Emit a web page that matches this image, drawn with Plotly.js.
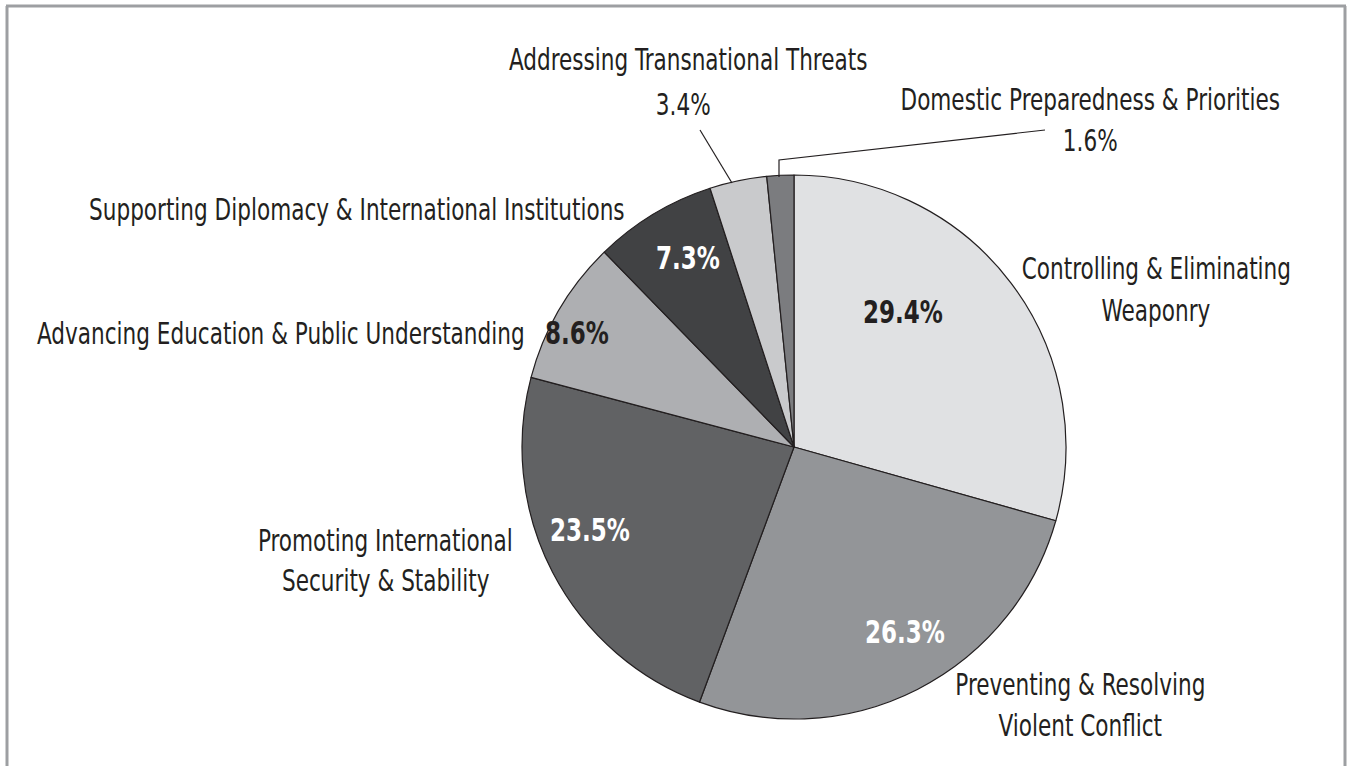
<!DOCTYPE html>
<html>
<head>
<meta charset="utf-8">
<script src="https://cdn.plot.ly/plotly-3.0.1.min.js"></script>
<style>html,body{margin:0;padding:0;background:#fff;}#chart{width:1349px;height:766px;}</style>
</head>
<body>
<div id="chart"></div>
<script>
// ---- data ----
const categories = [
  "Controlling & Eliminating Weaponry",
  "Preventing & Resolving Violent Conflict",
  "Promoting International Security & Stability",
  "Advancing Education & Public Understanding",
  "Supporting Diplomacy & International Institutions",
  "Addressing Transnational Threats",
  "Domestic Preparedness & Priorities"
];
const values = [29.4, 26.3, 23.5, 8.6, 7.3, 3.4, 1.6];
const sliceColors = ["#e0e1e3", "#939598", "#616264", "#aeafb2", "#414244", "#c9cacc", "#7b7c7f"];

// ---- layout helpers (pixel -> paper) ----
const W = 1349, H = 766;
const px = x => x / W;
const py = y => 1 - y / H;
const cx = 794, cy = 447, R = 272;

const FONT = "'DejaVu Sans Condensed', 'Liberation Sans Narrow', 'Liberation Sans', sans-serif";
const INK = "#231f20";
const FS = 30;        // font size
const FS_IN = 32;     // inside percentage font size
const SQUEEZE = 0.80; // horizontal condensing of label text

// category label placements (line breaks + per-line vertical centres)
const catLabelPos = [
  {split: 25, x: 1156, ys: [268, 310], xa: "center"},
  {split: 22, x: 1080, ys: [684, 725], xa: "center"},
  {split: 23, x: 385, ys: [540, 580], xa: "center"},
  {split: 0,  x: 527, ys: [333], xa: "right"},
  {split: 0,  x: 627, ys: [210], xa: "right"},
  {split: 0,  x: 688, ys: [60], xa: "center"},
  {split: 0,  x: 1090, ys: [99], xa: "center"}
];
// percentage placements: inside (bold) or outside (regular)
const pctPos = [
  {x: 903, y: 312, color: INK, bold: true},
  {x: 905, y: 632, color: "#ffffff", bold: true},
  {x: 590, y: 530, color: "#ffffff", bold: true},
  {x: 577, y: 333, color: INK, bold: true},
  {x: 688, y: 258, color: "#ffffff", bold: true},
  {x: 683, y: 104, color: INK, bold: false},
  {x: 1090, y: 140, color: INK, bold: false}
];

const annotations = [];
categories.forEach((name, i) => {
  const p = catLabelPos[i];
  const lines = p.split ? [name.slice(0, p.split).trim(), name.slice(p.split).trim()] : [name];
  lines.forEach((ln, k) => {
    annotations.push({
      xref: "paper", yref: "paper", x: px(p.x), y: py(p.ys[k]),
      xanchor: p.xa, yanchor: "middle", showarrow: false, align: "center",
      text: ln,
      font: {family: FONT, size: FS, color: INK}
    });
  });
});
values.forEach((v, i) => {
  const p = pctPos[i];
  const t = v.toFixed(1) + "%";
  annotations.push({
    xref: "paper", yref: "paper", x: px(p.x), y: py(p.y),
    xanchor: "center", yanchor: "middle", showarrow: false,
    text: p.bold ? "<b>" + t + "</b>" : t,
    font: {family: FONT, size: p.bold ? FS_IN : FS, color: p.color}
  });
});

const frame = "#9d9fa2";
const shapes = [
  {type: "line", xref: "paper", yref: "paper", x0: px(7), x1: px(7), y0: py(6), y1: py(770), line: {color: frame, width: 3}},
  {type: "line", xref: "paper", yref: "paper", x0: px(6), x1: px(1346), y0: py(6), y1: py(6), line: {color: frame, width: 3}},
  {type: "line", xref: "paper", yref: "paper", x0: px(1345), x1: px(1345), y0: py(6), y1: py(770), line: {color: frame, width: 3}},
  // leader lines
  {type: "line", xref: "paper", yref: "paper", x0: px(700), y0: py(130), x1: px(732), y1: py(183), line: {color: INK, width: 1.2}},
  {type: "path", xref: "paper", yref: "paper",
   path: "M " + px(779) + "," + py(177) + " L " + px(779) + "," + py(160) + " L " + px(1045) + "," + py(130),
   line: {color: INK, width: 1.2}}
];

const trace = {
  type: "pie",
  labels: categories,
  values: values,
  sort: false,
  direction: "clockwise",
  rotation: 0,
  textinfo: "none",
  hoverinfo: "label+percent",
  marker: {colors: sliceColors, line: {color: INK, width: 1.2}},
  domain: {x: [px(cx - R), px(cx + R)], y: [py(cy + R), py(cy - R)]},
  showlegend: false
};

const layout = {
  width: W, height: H,
  margin: {l: 0, r: 0, t: 0, b: 0},
  paper_bgcolor: "#ffffff",
  showlegend: false,
  annotations: annotations,
  shapes: shapes
};

Plotly.newPlot("chart", [trace], layout, {displayModeBar: false, staticPlot: true}).then(gd => {
  // condense annotation text horizontally around its anchor point
  gd.querySelectorAll("g.annotation").forEach(g => {
    const idx = +g.getAttribute("data-index");
    const ann = annotations[idx];
    const t = g.querySelector("text.annotation-text");
    if (!t || !ann) return;
    const b = t.getBBox();
    let ax = b.x + b.width / 2;
    if (ann.xanchor === "right") ax = b.x + b.width;
    if (ann.xanchor === "left") ax = b.x;
    const prev = t.getAttribute("transform") || "";
    t.setAttribute("transform", (prev + " translate(" + ax + ",0) scale(" + SQUEEZE + ",1) translate(" + (-ax) + ",0)").trim());
  });
});
</script>
</body>
</html>
